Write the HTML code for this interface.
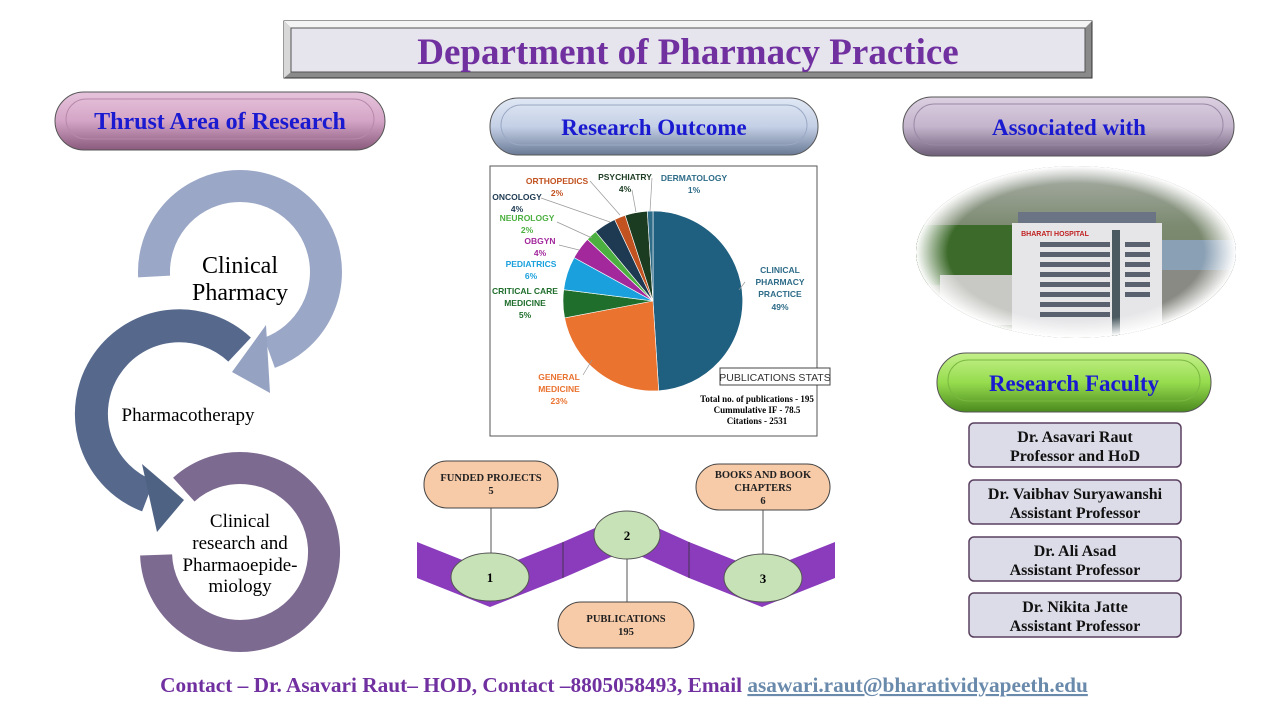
<!DOCTYPE html>
<html><head><meta charset="utf-8"><style>
html,body{margin:0;padding:0;background:#fff;}
svg{display:block;}
text{font-family:"Liberation Serif",serif;}
.b{font-weight:bold;}
.s{font-family:"Liberation Sans",sans-serif;font-weight:bold;font-size:8.5px;}
.ss{font-family:"Liberation Sans",sans-serif;}
</style></head><body>
<svg width="1280" height="720" viewBox="0 0 1280 720" xmlns="http://www.w3.org/2000/svg">
<defs>
<linearGradient id="gPink" x1="0" y1="0" x2="0" y2="1"><stop offset="0" stop-color="#e6c4dc"/><stop offset="0.5" stop-color="#d4a4c6"/><stop offset="1" stop-color="#8a5a7c"/></linearGradient>
<linearGradient id="gBlue" x1="0" y1="0" x2="0" y2="1"><stop offset="0" stop-color="#e0e8f4"/><stop offset="0.5" stop-color="#c4d0e6"/><stop offset="1" stop-color="#6a7a96"/></linearGradient>
<linearGradient id="gLav" x1="0" y1="0" x2="0" y2="1"><stop offset="0" stop-color="#dcd0e2"/><stop offset="0.5" stop-color="#c4b4cc"/><stop offset="1" stop-color="#6e5e78"/></linearGradient>
<linearGradient id="gGreen" x1="0" y1="0" x2="0" y2="1"><stop offset="0" stop-color="#c4f08a"/><stop offset="0.5" stop-color="#96dc4e"/><stop offset="1" stop-color="#4a8a1e"/></linearGradient>
<radialGradient id="fade" cx="0.5" cy="0.5" r="0.5"><stop offset="0.8" stop-color="#fff" stop-opacity="0"/><stop offset="1" stop-color="#fff" stop-opacity="1"/></radialGradient>
<linearGradient id="city" x1="0" y1="0" x2="0" y2="1"><stop offset="0" stop-color="#b0b4b0"/><stop offset="0.35" stop-color="#7c8a70"/><stop offset="1" stop-color="#6a7a5a"/></linearGradient>
<clipPath id="ell"><ellipse cx="1076" cy="252" rx="160" ry="86"/></clipPath>
</defs>

<!-- Header -->
<rect x="284" y="21" width="808" height="57" fill="#8a8a8a" stroke="#333"/>
<polygon points="284,21 1092,21 1085,28 291,28" fill="#f4f4f4"/>
<polygon points="284,21 291,28 291,72 284,78" fill="#d8d8d8"/>
<rect x="291" y="28" width="794" height="44" fill="#e6e4ec" stroke="#555"/>
<text x="688" y="64" text-anchor="middle" class="b" font-size="37" fill="#7030a0">Department of Pharmacy Practice</text>

<!-- Pills -->
<rect x="55" y="92" width="330" height="58" rx="29" fill="url(#gPink)" stroke="#555"/>
<rect x="66" y="99" width="308" height="40" rx="20" fill="none" stroke="#b888aa"/>
<text x="220" y="129" text-anchor="middle" class="b" font-size="24" fill="#1a1ad0">Thrust Area of Research</text>

<rect x="490" y="98" width="328" height="57" rx="28" fill="url(#gBlue)" stroke="#555"/>
<rect x="501" y="105" width="306" height="40" rx="20" fill="none" stroke="#9aa8c4"/>
<text x="654" y="135" text-anchor="middle" class="b" font-size="23" fill="#1a1ad0">Research Outcome</text>

<rect x="903" y="97" width="331" height="59" rx="29" fill="url(#gLav)" stroke="#555"/>
<rect x="914" y="104" width="309" height="41" rx="20" fill="none" stroke="#9a88a4"/>
<text x="1069" y="135" text-anchor="middle" class="b" font-size="23" fill="#1a1ad0">Associated with</text>

<rect x="937" y="353" width="274" height="59" rx="29" fill="url(#gGreen)" stroke="#555"/>
<rect x="948" y="360" width="252" height="41" rx="20" fill="none" stroke="#7ab840"/>
<text x="1074" y="391" text-anchor="middle" class="b" font-size="23" fill="#1a1ad0">Research Faculty</text>

<!-- Cycle circles -->
<path d="M183.8,489.6 A84,84 0 1 1 156.1,554.9" fill="none" stroke="#7d6a91" stroke-width="32"/>
<path d="M239.6,349.6 A88,88 0 1 0 148,496" fill="none" stroke="#56698c" stroke-width="33"/>
<polygon points="142,464 157,532 184,500" fill="#4e6284"/>
<path d="M154.1,276.5 A86,86 0 1 1 269.4,352.8" fill="none" stroke="#9ba7c6" stroke-width="32"/>
<polygon points="266,325 270,393 232,372" fill="#95a2c2"/>
<text x="240" y="273" text-anchor="middle" font-size="24">Clinical</text>
<text x="240" y="300" text-anchor="middle" font-size="24">Pharmacy</text>
<text x="188" y="421" text-anchor="middle" font-size="19">Pharmacotherapy</text>
<text x="240" y="527" text-anchor="middle" font-size="19">Clinical</text>
<text x="240" y="549" text-anchor="middle" font-size="19">research and</text>
<text x="240" y="571" text-anchor="middle" font-size="19">Pharmaoepide-</text>
<text x="240" y="592" text-anchor="middle" font-size="19">miology</text>

<!-- Pie chart -->
<rect x="490" y="166" width="327" height="270" fill="#fff" stroke="#555"/>
<g stroke="#fff" stroke-width="0.6">
<path d="M653,301 L653,211 A90,90 0 0 1 658.7,390.8 Z" fill="#1f5f80"/>
<path d="M653,301 L658.7,390.8 A90,90 0 0 1 564.6,317.9 Z" fill="#ea7330"/>
<path d="M653,301 L564.6,317.9 A90,90 0 0 1 563.7,289.7 Z" fill="#1f6e2c"/>
<path d="M653,301 L563.7,289.7 A90,90 0 0 1 574.1,257.6 Z" fill="#1aa0dc"/>
<path d="M653,301 L574.1,257.6 A90,90 0 0 1 587.4,239.4 Z" fill="#a2289c"/>
<path d="M653,301 L587.4,239.4 A90,90 0 0 1 595.6,231.7 Z" fill="#4cb040"/>
<path d="M653,301 L595.6,231.7 A90,90 0 0 1 614.7,219.6 Z" fill="#1e3a52"/>
<path d="M653,301 L614.7,219.6 A90,90 0 0 1 625.2,215.4 Z" fill="#c25220"/>
<path d="M653,301 L625.2,215.4 A90,90 0 0 1 647.3,211.2 Z" fill="#1c3c22"/>
<path d="M653,301 L647.3,211.2 A90,90 0 0 1 653,211 Z" fill="#2e6c88"/>
</g>
<g stroke="#999" stroke-width="0.7" fill="none">
<path d="M739,290 L745,282"/><path d="M583,375 L592,360"/>
<path d="M559,245 L579,250"/><path d="M557,222 L592,238"/>
<path d="M541,198 L610,222"/><path d="M590,181 L620,215"/>
<path d="M632,190 L636,212"/><path d="M652,178 L650,211"/>
</g>
<text class="s" x="780" y="273" text-anchor="middle" fill="#2e6c88">CLINICAL</text>
<text class="s" x="780" y="285" text-anchor="middle" fill="#2e6c88">PHARMACY</text>
<text class="s" x="780" y="297" text-anchor="middle" fill="#2e6c88">PRACTICE</text>
<text class="s" x="780" y="310" text-anchor="middle" fill="#2e6c88">49%</text>
<text class="s" x="559" y="380" text-anchor="middle" fill="#ea7330">GENERAL</text>
<text class="s" x="559" y="392" text-anchor="middle" fill="#ea7330">MEDICINE</text>
<text class="s" x="559" y="404" text-anchor="middle" fill="#ea7330">23%</text>
<text class="s" x="525" y="294" text-anchor="middle" fill="#1f6e2c">CRITICAL CARE</text>
<text class="s" x="525" y="306" text-anchor="middle" fill="#1f6e2c">MEDICINE</text>
<text class="s" x="525" y="318" text-anchor="middle" fill="#1f6e2c">5%</text>
<text class="s" x="531" y="267" text-anchor="middle" fill="#1aa0dc">PEDIATRICS</text>
<text class="s" x="531" y="279" text-anchor="middle" fill="#1aa0dc">6%</text>
<text class="s" x="540" y="244" text-anchor="middle" fill="#a2289c">OBGYN</text>
<text class="s" x="540" y="256" text-anchor="middle" fill="#a2289c">4%</text>
<text class="s" x="527" y="221" text-anchor="middle" fill="#4cb040">NEUROLOGY</text>
<text class="s" x="527" y="233" text-anchor="middle" fill="#4cb040">2%</text>
<text class="s" x="517" y="200" text-anchor="middle" fill="#1e3a52">ONCOLOGY</text>
<text class="s" x="517" y="212" text-anchor="middle" fill="#1e3a52">4%</text>
<text class="s" x="557" y="184" text-anchor="middle" fill="#c25220">ORTHOPEDICS</text>
<text class="s" x="557" y="196" text-anchor="middle" fill="#c25220">2%</text>
<text class="s" x="625" y="180" text-anchor="middle" fill="#1c3c22">PSYCHIATRY</text>
<text class="s" x="625" y="192" text-anchor="middle" fill="#1c3c22">4%</text>
<text class="s" x="694" y="181" text-anchor="middle" fill="#2e6c88">DERMATOLOGY</text>
<text class="s" x="694" y="193" text-anchor="middle" fill="#2e6c88">1%</text>
<rect x="720" y="368" width="110" height="17" fill="#fff" stroke="#444"/>
<text class="ss" x="775" y="381" text-anchor="middle" font-size="10.5" fill="#333">PUBLICATIONS STATS</text>
<text x="757" y="402" text-anchor="middle" class="b" font-size="9">Total no. of publications - 195</text>
<text x="757" y="413" text-anchor="middle" class="b" font-size="9">Cummulative IF - 78.5</text>
<text x="757" y="424" text-anchor="middle" class="b" font-size="9">Citations - 2531</text>

<!-- Photo -->
<g clip-path="url(#ell)">
<rect x="900" y="160" width="350" height="190" fill="url(#city)"/>
<rect x="915" y="225" width="100" height="60" fill="#3c6a2a"/>
<rect x="940" y="275" width="75" height="50" fill="#c8c8c4"/>
<rect x="1160" y="240" width="80" height="30" fill="#8aa0b4"/>
<rect x="1160" y="270" width="80" height="60" fill="#8a8a84"/>
<rect x="1018" y="212" width="138" height="12" fill="#6a7484"/>
<rect x="1012" y="223" width="150" height="120" fill="#e6e6e8"/>
<text class="ss" x="1055" y="236" text-anchor="middle" font-size="7" font-weight="bold" fill="#c02020">BHARATI HOSPITAL</text>
<g fill="#5a6270">
<rect x="1040" y="242" width="70" height="5"/><rect x="1040" y="252" width="70" height="5"/>
<rect x="1040" y="262" width="70" height="5"/><rect x="1040" y="272" width="70" height="5"/>
<rect x="1040" y="282" width="70" height="5"/><rect x="1040" y="292" width="70" height="5"/>
<rect x="1040" y="302" width="70" height="5"/><rect x="1040" y="312" width="70" height="5"/>
<rect x="1125" y="242" width="25" height="5"/><rect x="1125" y="252" width="25" height="5"/>
<rect x="1125" y="262" width="25" height="5"/><rect x="1125" y="272" width="25" height="5"/>
<rect x="1125" y="282" width="25" height="5"/><rect x="1125" y="292" width="25" height="5"/>
<rect x="1112" y="230" width="8" height="110" fill="#4a5a60"/>
</g>
<ellipse cx="1076" cy="252" rx="160" ry="86" fill="url(#fade)"/>
</g>

<!-- Faculty -->
<g fill="#dcdce8" stroke="#5a4060" stroke-width="1.5">
<rect x="969" y="423" width="212" height="44" rx="5"/>
<rect x="969" y="480" width="212" height="44" rx="5"/>
<rect x="969" y="537" width="212" height="44" rx="5"/>
<rect x="969" y="593" width="212" height="44" rx="5"/>
</g>
<g class="b" font-size="16" text-anchor="middle" fill="#111">
<text x="1075" y="442">Dr. Asavari Raut</text><text x="1075" y="461">Professor and HoD</text>
<text x="1075" y="499">Dr. Vaibhav Suryawanshi</text><text x="1075" y="518">Assistant Professor</text>
<text x="1075" y="556">Dr. Ali Asad</text><text x="1075" y="575">Assistant Professor</text>
<text x="1075" y="612">Dr. Nikita Jatte</text><text x="1075" y="631">Assistant Professor</text>
</g>

<!-- Ribbon -->
<polygon points="417,542 490,571 563,542 627,514 689,542 762,571 835,542 835,578 762,607 689,578 627,550 563,578 490,607 417,578" fill="#8a3cbc"/>
<line x1="563" y1="542" x2="563" y2="578" stroke="#333" stroke-width="0.8"/>
<line x1="689" y1="542" x2="689" y2="578" stroke="#333" stroke-width="0.8"/>
<g stroke="#555" stroke-width="1">
<line x1="491" y1="508" x2="491" y2="553"/>
<line x1="763" y1="510" x2="763" y2="554"/>
<line x1="627" y1="559" x2="627" y2="602"/>
</g>
<g fill="#c8e2b8" stroke="#555">
<ellipse cx="490" cy="577" rx="39" ry="24"/>
<ellipse cx="627" cy="535" rx="33" ry="24"/>
<ellipse cx="763" cy="578" rx="39" ry="24"/>
</g>
<g class="b" font-size="13" text-anchor="middle">
<text x="490" y="582">1</text><text x="627" y="540">2</text><text x="763" y="583">3</text>
</g>
<g fill="#f7caa8" stroke="#444">
<rect x="424" y="461" width="134" height="47" rx="23"/>
<rect x="696" y="464" width="134" height="46" rx="23"/>
<rect x="558" y="602" width="136" height="46" rx="23"/>
</g>
<g class="b" font-size="10.5" text-anchor="middle" fill="#222">
<text x="491" y="481">FUNDED PROJECTS</text><text x="491" y="494">5</text>
<text x="763" y="478">BOOKS AND BOOK</text><text x="763" y="491">CHAPTERS</text><text x="763" y="504">6</text>
<text x="626" y="622">PUBLICATIONS</text><text x="626" y="635">195</text>
</g>

<!-- Footer -->
<text x="624" y="692" text-anchor="middle" class="b" font-size="21.3" fill="#7030a0">Contact – Dr. Asavari Raut– HOD, Contact –8805058493, Email <tspan fill="#6a8aac" text-decoration="underline">asawari.raut@bharatividyapeeth.edu</tspan></text>
</svg>
</body></html>
